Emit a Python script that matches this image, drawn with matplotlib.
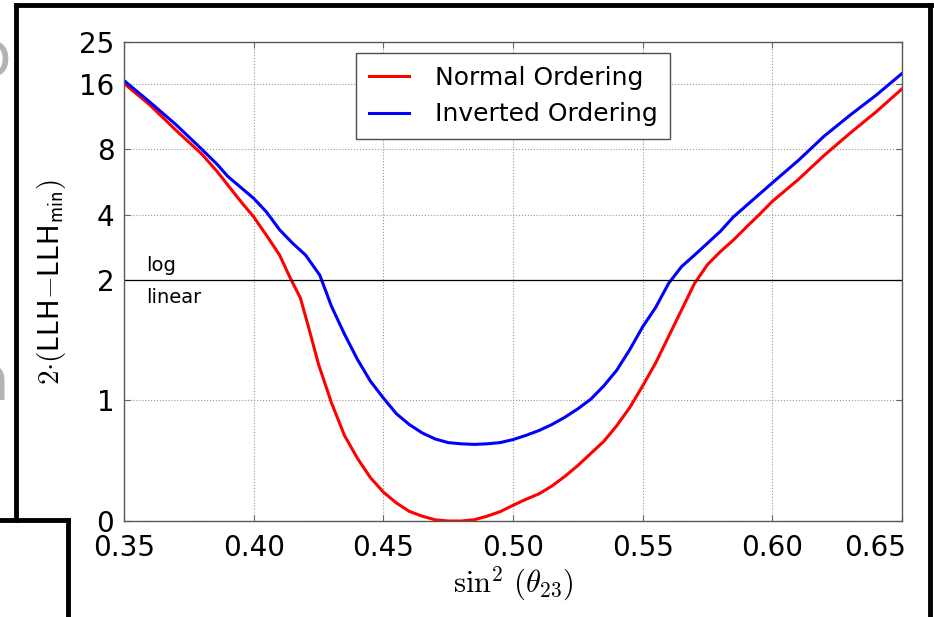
#!/usr/bin/env python3

import numpy as np
import matplotlib
matplotlib.use("Agg")
import matplotlib.pyplot as plt
import matplotlib.transforms as mtransforms
from matplotlib.lines import Line2D

sin2_no = [0.350, 0.360, 0.370, 0.380, 0.386, 0.395, 0.400, 0.405, 0.410, 0.414,
           0.418, 0.421, 0.425, 0.430, 0.435, 0.440, 0.445, 0.450, 0.455, 0.460,
           0.465, 0.470, 0.475, 0.480, 0.485, 0.490, 0.495, 0.500, 0.505, 0.510,
           0.515, 0.520, 0.525, 0.530, 0.535, 0.540, 0.545, 0.550, 0.555, 0.560,
           0.565, 0.570, 0.575, 0.580, 0.585, 0.590, 0.595, 0.600, 0.610, 0.620,
           0.630, 0.640, 0.650]
llh_no = [16.1, 12.8, 9.8, 7.6, 6.3, 4.6, 3.9, 3.2, 2.6, 2.05,
          1.85, 1.62, 1.30, 0.98, 0.71, 0.52, 0.36, 0.24, 0.15, 0.08,
          0.04, 0.01, 0.0, 0.0, 0.01, 0.04, 0.077, 0.13, 0.18, 0.225,
          0.29, 0.37, 0.46, 0.56, 0.66, 0.79, 0.94, 1.12, 1.31, 1.53,
          1.75, 1.97, 2.35, 2.7, 3.05, 3.5, 4.0, 4.6, 5.8, 7.5,
          9.5, 11.9, 15.2]

sin2_io = [0.350, 0.360, 0.370, 0.380, 0.386, 0.390, 0.400, 0.405, 0.410, 0.415,
           0.420, 0.4255, 0.430, 0.435, 0.440, 0.445, 0.450, 0.455, 0.460, 0.465,
           0.470, 0.475, 0.480, 0.485, 0.490, 0.495, 0.500, 0.505, 0.510, 0.515,
           0.520, 0.525, 0.530, 0.535, 0.540, 0.545, 0.550, 0.555, 0.560, 0.565,
           0.570, 0.575, 0.580, 0.585, 0.590, 0.600, 0.610, 0.620, 0.630, 0.640,
           0.650]
llh_io = [16.6, 13.2, 10.4, 8.0, 6.8, 6.0, 4.75, 4.1, 3.4, 2.95,
          2.6, 2.1, 1.78, 1.55, 1.34, 1.16, 1.02, 0.89, 0.80, 0.73,
          0.68, 0.65, 0.64, 0.635, 0.64, 0.65, 0.675, 0.71, 0.75, 0.80,
          0.86, 0.93, 1.01, 1.12, 1.25, 1.42, 1.61, 1.77, 1.97, 2.3,
          2.6, 2.95, 3.35, 3.9, 4.4, 5.6, 7.1, 9.2, 11.5, 14.2,
          17.9]

x_ticks = [0.35, 0.40, 0.45, 0.50, 0.55, 0.60, 0.65]
y_ticks = [0, 1, 2, 4, 8, 16, 25]

K = 0.541  # height of one doubling above 2, in linear units


def fwd(y):
    y = np.asarray(y, dtype=float)
    return np.where(y <= 2, y, 2 + K * np.log2(np.maximum(y, 2) / 2))


def inv(t):
    t = np.asarray(t, dtype=float)
    return np.where(t <= 2, t, 2 * np.exp2((np.maximum(t, 2) - 2) / K))


plt.rcParams["mathtext.fontset"] = "cm"
plt.rcParams["font.family"] = "DejaVu Sans"

W, H = 934, 617
fig = plt.figure(figsize=(W / 100, H / 100), dpi=100, facecolor="white")
ax = fig.add_axes([124 / W, 1 - 521 / H, 778 / W, 479 / H])

ax.plot(sin2_no, llh_no, color="red", lw=2.2, label="Normal Ordering")
ax.plot(sin2_io, llh_io, color="blue", lw=2.2, label="Inverted Ordering")
ax.axhline(2, color="black", lw=0.9)

ax.set_yscale("function", functions=(fwd, inv))
ax.set_xlim(0.35, 0.65)
ax.set_ylim(0, 25)
ax.set_xticks(x_ticks)
ax.set_xticklabels(["%.2f" % v for v in x_ticks])
ax.set_yticks(y_ticks)
ax.set_yticklabels([str(v) for v in y_ticks])
ax.minorticks_off()
ax.tick_params(direction="in", length=4, width=0.8, top=True, right=True,
               labelsize=20, color="0.4")
ax.tick_params(axis="x", pad=9)
ax.tick_params(axis="y", pad=7)
ax.grid(True, linestyle=":", color="0.6", lw=0.8)
for s in ax.spines.values():
    s.set_color("0.35")
    s.set_linewidth(1.0)

# last x label sits pulled in from the edge in the original
last = ax.get_xticklabels()[-1]
last.set_transform(last.get_transform() +
                   mtransforms.ScaledTranslation(-0.27, 0, fig.dpi_scale_trans))

ax.text(0.3585, 2.1, "log", fontsize=14, va="bottom")
ax.text(0.3585, 1.93, "linear", fontsize=14, va="top")

ax.set_xlabel(r"$\sin^2\,(\theta_{23})$", fontsize=22, labelpad=2)
ax.set_ylabel(r"$2{\cdot}(\mathsf{LLH}{-}\mathsf{LLH}_{\mathsf{min}})$",
              fontsize=21, labelpad=8)

leg = ax.legend(loc="upper center", fontsize=18, handlelength=1.6,
                handletextpad=1.05, borderpad=0.5, borderaxespad=0.45,
                fancybox=False, framealpha=1)
leg.get_frame().set_edgecolor("0.3")
leg.get_frame().set_linewidth(1.0)


# slide frame around the screenshot
def fline(xs, ys, lw=3.5):
    fig.add_artist(Line2D([x / W for x in xs], [1 - y / H for y in ys],
                          color="black", lw=lw, transform=fig.transFigure))


fline([16, 931], [5, 5])
fline([16, 16], [5, 520])
fline([930, 930], [5, 617])
fline([0, 68], [520, 520])
fline([68, 68], [520, 617])

# bits of slide text cut off at the left edge
fig.text(-28 / W, 1 - 75 / H, "p", fontsize=44, color="0.7")
fig.text(-30 / W, 1 - 400 / H, "n", fontsize=44, color="0.7")

fig.savefig("out.png", dpi=100, facecolor="white")
